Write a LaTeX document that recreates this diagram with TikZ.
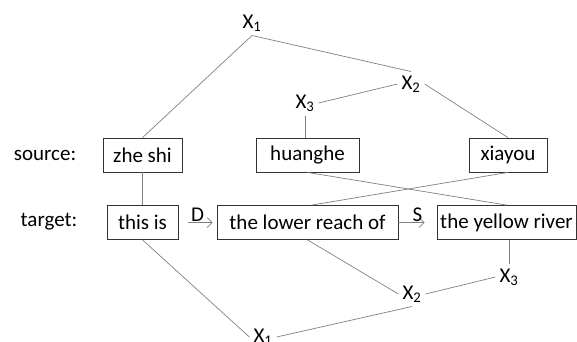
\documentclass[tikz,border=0pt]{standalone}
\usepackage{fontspec}
\setmainfont{Carlito}
\usetikzlibrary{arrows.meta,positioning}

\begin{document}
\begin{tikzpicture}[x=1pt, y=-1pt, font=\fontsize{21}{25}\selectfont,
        word/.style = {draw=black!80, line width=0.8pt, minimum height=34pt, inner sep=2pt},
        var/.style = {inner sep=4pt},
        link/.style = {draw=black!50, line width=0.7pt},
        order/.style = {link, -{Straight Barb[length=5pt,width=10pt]}}]
    \useasboundingbox (0,0) rectangle (577,341);
    % row labels
    \node (src) at (45,155) {source:};
    \node (tgt) at (49,222) {target:};
    % source words
    \node [word, minimum width=79pt] (zheshi) at (142.5,155) {zhe shi};
    \node [word, minimum width=103pt] (huanghe) at (307.5,155) {huanghe};
    \node [word, minimum width=78pt] (xiayou) at (508,155) {xiayou};
    % target words
    \node [word, minimum width=71pt] (thisis) at (142.5,222.5) {this is};
    \node [word, minimum width=181pt] (lower) at (307.5,222.5) {the lower reach of};
    \node [word, minimum width=139pt] (yellow) at (506.5,222.5) {the yellow river};
    % source tree
    \node [var] (sx1) at (252,23) {X\textsubscript{1}};
    \node [var] (sx2) at (411,84) {X\textsubscript{2}};
    \node [var] (sx3) at (305,103) {X\textsubscript{3}};
    % target tree
    \node [var] (tx1) at (263,337) {X\textsubscript{1}};
    \node [var] (tx2) at (412,294) {X\textsubscript{2}};
    \node [var] (tx3) at (509,277) {X\textsubscript{3}};

    \draw [link] (zheshi.north) -- (sx1.south) -- (sx2.north);
    \draw [link] (sx2.west) -- (sx3.east);
    \draw [link] (sx2.east) -- (xiayou.north);
    \draw [link] (sx3.south) -- (sx3.south |- huanghe.north);
    \draw [link] (zheshi) -- (thisis);
    \draw [link] (huanghe.south) -- (yellow.north);
    \draw [link] (xiayou.south) -- ([xshift=4pt]lower.north);
    \draw [link] (thisis.south) -- (tx1.west) (tx1.east) -- (tx2.south);
    \draw [link] (lower.south) -- (tx2.west) (tx2.east) -- (tx3.west);
    \draw [link] (tx3.north) -- (tx3.north |- yellow.south);
    % reordering
    \draw [order, shorten <=10pt, shorten >=4pt] (thisis.east) -- node [above=-3pt] {D} (lower.west);
    \draw [order, shorten >=12pt] (lower.east) -- node [above=-3pt] {S} (yellow.west);
\end{tikzpicture}
\end{document}
